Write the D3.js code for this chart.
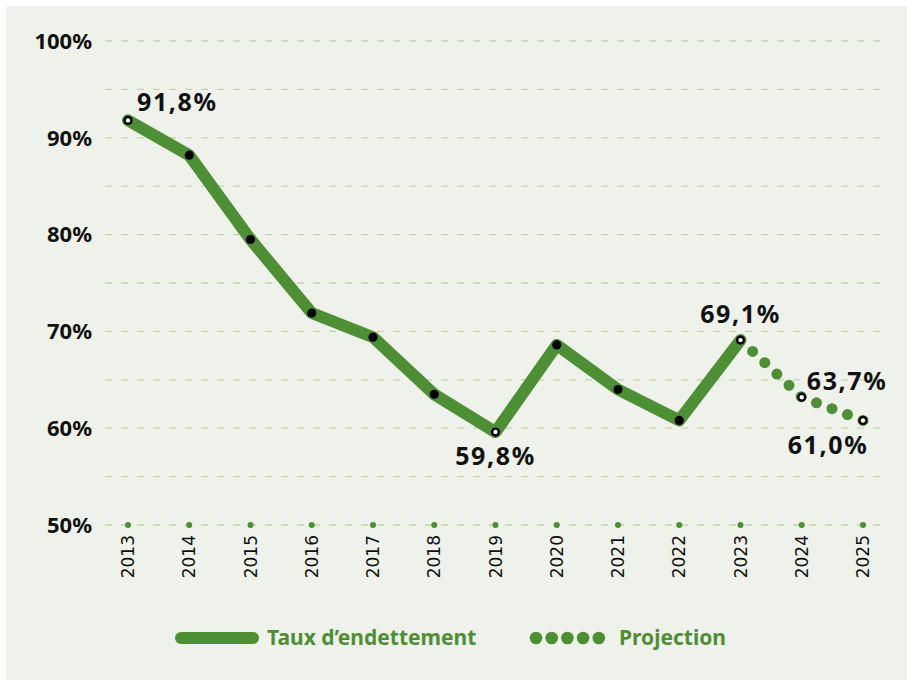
<!DOCTYPE html>
<html>
<head>
<meta charset="utf-8">
<script src="https://cdn.jsdelivr.net/npm/d3@7"></script>
<style>
  body { margin: 0; background: #fff; }
  svg { display: block; font-family: "Noto Sans", "Open Sans", sans-serif; }
</style>
</head>
<body>
<svg id="chart"></svg>
<script>
// data
const years = [2013, 2014, 2015, 2016, 2017, 2018, 2019, 2020, 2021, 2022, 2023, 2024, 2025];
const debtRate = [91.8, 88.2, 79.5, 71.9, 69.4, 63.5, 59.6, 68.6, 64.0, 60.8, 69.1];
const projYears = [2023, 2024, 2025];
const projRate = [69.1, 63.2, 60.8];
const yTicks = [50, 60, 70, 80, 90, 100];
const gridTicks = [50, 55, 60, 65, 70, 75, 80, 85, 90, 95, 100];
const hollowYears = [2013, 2019, 2023, 2024, 2025];
const labelYears = [2013, 2019, 2023, 2024, 2025];
const labelTexts = ["91,8%", "59,8%", "69,1%", "63,7%", "61,0%"];

const width = 907, height = 680;
const green = "#4e8f35";

const svg = d3.select("#chart").attr("width", width).attr("height", height);

svg.append("rect").attr("x", 6).attr("y", 6).attr("width", width - 6).attr("height", height - 6)
  .attr("fill", "#eff2eb");

const x = d3.scalePoint().domain(years).range([128, 863]);
const y = d3.scaleLinear().domain([50, 100]).range([525, 41]);

// grid
svg.append("g").selectAll("line").data(gridTicks).enter().append("line")
  .attr("x1", 105).attr("x2", 881)
  .attr("y1", d => y(d)).attr("y2", d => y(d))
  .attr("stroke", "#c3d3ac").attr("stroke-width", 1.3)
  .attr("stroke-dasharray", "7 9");

// y labels
svg.append("g").selectAll("text").data(yTicks).enter().append("text")
  .attr("x", 92).attr("y", d => y(d)).attr("dy", "0.35em")
  .attr("text-anchor", "end").attr("font-weight", 700).attr("font-size", 22)
  .attr("fill", "#111").text(d => d + "%");

// x axis dots + labels
svg.append("g").selectAll("circle").data(years).enter().append("circle")
  .attr("cx", d => x(d)).attr("cy", y(50)).attr("r", 3).attr("fill", green);

svg.append("g").selectAll("text").data(years).enter().append("text")
  .attr("transform", d => `translate(${x(d) + 6},535) rotate(-90)`)
  .attr("text-anchor", "end").attr("font-size", 17).attr("fill", "#111")
  .style("font-family", "'DejaVu Sans', sans-serif")
  .text(d => d);

// main line
const mainPts = debtRate.map((v, i) => [x(years[i]), y(v)]);
svg.append("path").attr("d", d3.line()(mainPts))
  .attr("fill", "none").attr("stroke", green).attr("stroke-width", 12)
  .attr("stroke-linejoin", "round").attr("stroke-linecap", "round");

// projection dotted
const projPts = projRate.map((v, i) => [x(projYears[i]), y(v)]);
const proj = svg.append("path").attr("d", d3.line()(projPts))
  .attr("fill", "none").attr("stroke", green).attr("stroke-width", 11)
  .attr("stroke-linecap", "round");
const len = proj.node().getTotalLength();
const gap = len / Math.round(len / 16.7);
proj.attr("stroke-dasharray", `0 ${gap}`);

// markers
const allPts = years.map((yr, i) => {
  const v = i < debtRate.length ? debtRate[i] : projRate[projYears.indexOf(yr)];
  return { yr, v };
});
const mk = svg.append("g").selectAll("g").data(allPts).enter().append("g")
  .attr("transform", d => `translate(${x(d.yr)},${y(d.v)})`);
mk.append("circle").attr("r", 4.6).attr("fill", "#000");
mk.filter(d => hollowYears.includes(d.yr)).append("circle").attr("r", 2.2).attr("fill", "#fff");

// value labels
const labelPos = {
  2013: { dx: 9, dy: -9, anchor: "start" },
  2019: { dx: 0, dy: 33, anchor: "middle" },
  2023: { dx: 0, dy: -17, anchor: "middle" },
  2024: { dx: 5, dy: -7, anchor: "start" },
  2025: { dx: -35, dy: 34, anchor: "middle" }
};
svg.append("g").selectAll("text").data(labelYears).enter().append("text")
  .attr("x", d => x(d) + labelPos[d].dx)
  .attr("y", d => { const p = allPts.find(a => a.yr === d); return y(p.v) + labelPos[d].dy; })
  .attr("text-anchor", d => labelPos[d].anchor)
  .attr("font-weight", 700).attr("font-size", 25).attr("letter-spacing", 1.6)
  .attr("fill", "#111")
  .text((d, i) => labelTexts[i]);

// legend
const lg = svg.append("g");
lg.append("line").attr("x1", 181).attr("x2", 253).attr("y1", 638).attr("y2", 638)
  .attr("stroke", green).attr("stroke-width", 12).attr("stroke-linecap", "round");
lg.append("text").attr("x", 267).attr("y", 638).attr("dy", "0.35em")
  .attr("font-weight", 700).attr("font-size", 21).attr("fill", green)
  .text("Taux d’endettement");
lg.selectAll("circle").data(d3.range(5)).enter().append("circle")
  .attr("cx", d => 536 + d * 15.7).attr("cy", 638).attr("r", 6.3).attr("fill", green);
lg.append("text").attr("x", 619).attr("y", 638).attr("dy", "0.35em")
  .attr("font-weight", 700).attr("font-size", 21).attr("fill", green)
  .text("Projection");
</script>
</body>
</html>
